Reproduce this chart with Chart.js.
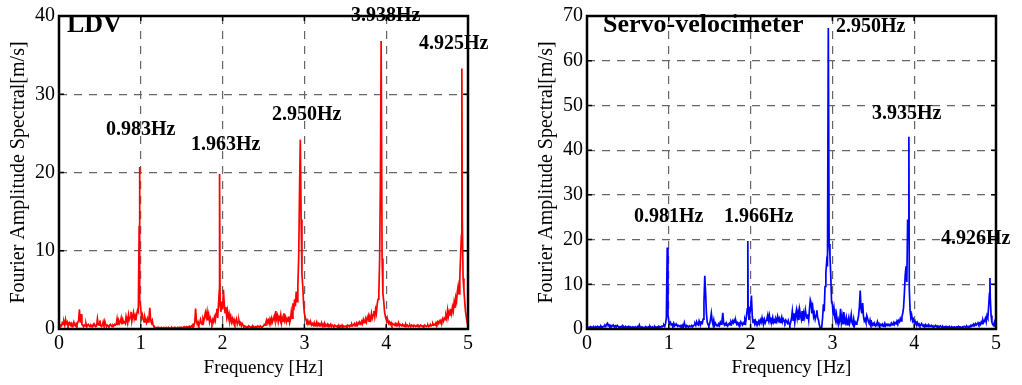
<!DOCTYPE html>
<html>
<head>
<meta charset="utf-8">
<script src="https://cdn.jsdelivr.net/npm/chart.js@4.4.0/dist/chart.umd.min.js"></script>
<style>
  html, body { margin: 0; padding: 0; background: #fff; }
  #wrap { position: relative; width: 1022px; height: 385px; }
  canvas { position: absolute; top: 0; }
  #ldv { left: 0; }
  #servo { left: 511px; }
</style>
</head>
<body>
<div id="wrap">
  <canvas id="ldv" width="511" height="385"></canvas>
  <canvas id="servo" width="511" height="385"></canvas>
</div>
<script>
// Fourier amplitude spectra, sampled every 0.01 Hz from 0 to 5 Hz (one row = 0.1 Hz)
const ldvAmp = [
  0.1,0.3,0.5,0.4,0.8,0.6,0.9,0.5,1.2,0.7,
  0.9,0.4,0.6,0.8,0.5,0.7,0.3,0.6,0.9,0.5,
  0.4,0.7,0.5,0.9,1.1,2.5,0.8,1.9,0.6,0.5,
  0.3,0.5,0.4,0.7,0.3,0.5,0.6,0.4,0.3,0.5,
  0.4,0.3,0.6,0.4,0.5,0.3,0.4,1.3,0.6,0.5,
  1.1,0.4,0.3,0.5,0.9,0.4,1.0,0.6,0.3,0.5,
  0.4,0.3,0.5,0.6,0.4,0.3,0.5,0.4,0.6,0.5,
  0.6,1.3,0.5,1.1,0.7,0.9,1.4,0.6,1.2,0.8,
  0.9,0.7,1.6,1.1,0.8,1.8,1.2,1.5,2.2,1.0,
  1.6,2.1,1.3,1.7,1.1,1.9,2.4,2.2,13.2,3.8,
  2.5,1.4,1.8,1.2,0.9,1.5,1.1,0.8,1.3,0.9,
  1.4,2.7,1.2,0.8,1.1,0.5,0.3,0.2,0.2,0.1,
  0.2,0.1,0.2,0.1,0.1,0.2,0.1,0.1,0.2,0.1,
  0.1,0.2,0.1,0.1,0.2,0.1,0.1,0.1,0.2,0.1,
  0.1,0.2,0.2,0.1,0.1,0.2,0.1,0.2,0.1,0.2,
  0.2,0.1,0.2,0.3,0.2,0.2,0.3,0.2,0.3,0.2,
  0.3,0.2,0.4,0.3,0.6,0.5,0.8,2.6,1.1,0.6,
  0.9,0.5,0.7,1.2,0.8,0.6,1.3,1.0,1.6,2.1,
  1.5,2.2,1.1,1.8,0.9,1.4,1.0,0.7,1.2,0.9,
  1.5,1.1,2.0,2.6,1.4,3.2,5.0,3.0,2.2,3.5,
  2.5,5.0,3.2,2.1,2.8,1.6,2.3,1.4,1.9,1.1,
  1.6,0.9,1.3,0.8,1.2,0.7,1.0,1.3,0.6,0.9,
  1.1,0.6,0.8,0.4,0.7,0.5,0.3,0.4,0.3,0.2,
  0.3,0.2,0.4,0.3,0.2,0.3,0.2,0.4,0.3,0.2,
  0.3,0.2,0.3,0.4,0.3,0.2,0.4,0.3,0.2,0.3,
  0.4,0.6,0.5,0.9,1.2,0.8,1.1,0.7,1.3,1.0,
  1.4,0.9,1.2,1.6,1.1,2.3,1.3,1.7,0.9,1.5,
  1.2,1.8,0.8,1.4,1.0,2.0,1.1,1.5,0.9,1.3,
  1.0,1.6,0.8,1.2,2.2,1.4,3.3,2.4,3.8,2.9,
  4.8,3.5,5.5,9.0,17.0,24.2,14.0,7.0,5.5,3.2,
  2.0,1.5,1.2,0.9,1.1,0.7,0.9,0.6,0.8,0.5,
  0.7,0.5,0.8,0.4,0.6,0.9,0.5,0.7,0.4,0.6,
  0.5,0.8,0.4,0.6,0.3,0.7,0.5,0.4,0.6,0.3,
  0.5,0.4,0.6,0.3,0.5,0.4,0.3,0.5,0.4,0.3,
  0.4,0.3,0.5,0.2,0.4,0.3,0.5,0.3,0.4,0.3,
  0.3,0.4,0.3,0.5,0.4,0.3,0.5,0.4,0.6,0.4,
  0.5,0.7,0.4,0.6,0.8,0.5,0.7,0.9,0.6,0.8,
  1.0,0.7,1.2,0.8,1.1,1.4,0.9,1.3,1.7,1.0,
  1.5,1.2,2.0,1.4,1.8,2.3,1.6,2.5,2.0,3.2,
  3.8,4.5,9.0,20.0,15.0,9.0,4.5,3.5,2.2,1.6,
  1.2,0.9,1.1,0.7,0.9,0.6,0.8,0.5,0.7,0.6,
  0.5,0.7,0.4,0.6,0.5,0.8,0.4,0.6,0.5,0.4,
  0.6,0.4,0.5,0.3,0.6,0.4,0.5,0.3,0.4,0.5,
  0.3,0.5,0.4,0.3,0.5,0.4,0.3,0.4,0.5,0.3,
  0.4,0.3,0.5,0.4,0.3,0.4,0.3,0.5,0.4,0.3,
  0.4,0.5,0.3,0.4,0.6,0.4,0.5,0.7,0.5,0.6,
  0.5,0.8,0.6,0.9,0.7,1.0,0.8,1.1,0.9,1.3,
  1.0,1.4,1.2,1.7,1.3,2.4,1.6,2.2,1.8,2.6,
  2.0,2.8,2.3,3.4,2.7,4.0,3.5,4.8,5.5,4.5,
  6.5,9.5,12.0,14.2,6.5,5.0,3.5,2.2,1.5,0.8,
  0.4
];

const servoAmp = [
  0.3,0.2,0.4,0.3,0.5,0.2,0.4,0.3,0.6,0.4,
  0.3,0.5,0.4,0.6,0.3,0.5,0.4,0.7,0.5,0.4,
  0.6,0.5,0.8,0.6,1.1,1.3,0.7,0.9,0.6,0.8,
  0.5,0.7,0.9,0.6,0.4,0.7,0.5,0.8,0.6,0.4,
  0.5,0.3,0.6,0.4,0.7,0.5,0.3,0.6,0.4,0.5,
  0.4,0.6,0.3,0.5,0.4,0.3,0.5,0.4,0.3,0.5,
  0.3,0.4,0.6,0.3,0.9,0.4,0.3,0.5,0.4,0.3,
  0.4,0.3,0.5,0.4,0.3,0.5,0.4,0.6,0.3,0.4,
  0.5,0.3,0.4,0.6,0.4,0.3,0.5,0.4,0.6,0.5,
  0.4,0.6,0.5,0.7,0.9,0.6,1.2,2.5,9.0,3.0,
  1.8,1.2,1.5,0.9,1.1,0.8,1.3,0.7,1.0,0.8,
  0.9,0.6,0.8,0.7,0.5,0.8,0.6,0.9,0.5,1.4,
  0.7,0.5,0.8,0.6,0.4,0.7,0.5,0.6,0.8,0.5,
  0.7,0.9,1.2,0.8,1.6,1.1,0.9,1.8,1.2,1.0,
  1.5,1.3,2.2,6.0,11.9,8.0,3.5,1.5,1.0,0.7,
  1.2,2.2,3.5,1.8,1.0,2.0,0.8,1.3,0.9,0.7,
  0.9,1.2,0.8,1.5,1.1,1.8,3.6,1.4,0.9,1.2,
  0.8,1.1,0.7,1.0,1.3,0.9,1.6,1.2,1.8,1.4,
  2.0,1.5,1.8,1.1,1.4,0.9,1.3,1.0,1.6,1.2,
  0.9,1.4,1.1,2.1,1.5,3.0,4.5,5.0,2.0,3.5,
  4.5,7.5,3.0,1.5,2.2,1.2,1.8,1.0,1.5,1.3,
  1.8,1.2,2.0,1.5,2.5,1.6,1.2,2.1,1.4,1.9,
  2.4,3.2,2.0,3.0,1.6,2.2,1.8,2.6,1.5,2.0,
  1.4,2.2,1.7,2.8,1.9,2.4,1.5,2.1,2.7,1.6,
  2.2,1.8,1.4,2.0,1.6,1.3,1.9,1.2,0.8,1.5,
  2.4,4.0,2.0,3.5,1.5,3.0,4.2,2.5,3.8,2.0,
  4.3,3.0,2.2,4.0,1.8,3.5,2.6,4.2,3.0,2.4,
  3.3,2.0,4.5,6.5,5.8,3.5,4.8,2.8,3.5,2.2,
  3.0,4.2,2.5,2.0,1.0,0.3,0.2,0.4,2.5,5.5,
  4.0,9.5,12.5,15.0,14.0,67.3,19.0,16.5,12.0,6.0,
  5.5,3.0,4.5,2.5,1.8,3.2,1.5,2.2,1.2,1.8,
  4.5,1.5,2.8,1.2,3.8,2.0,1.4,2.5,1.0,1.8,
  2.6,1.2,1.9,3.2,1.4,1.0,2.2,0.8,1.5,1.1,
  1.4,2.0,3.0,5.0,8.6,4.5,3.5,5.8,2.8,1.8,
  2.2,1.5,3.0,2.4,1.6,1.2,2.0,1.1,1.5,0.9,
  1.2,0.8,1.1,0.7,1.0,1.6,0.8,1.2,0.7,1.0,
  0.8,1.1,0.6,0.9,1.3,0.7,1.0,0.8,1.1,0.9,
  1.0,0.8,1.3,0.9,1.2,1.5,1.0,1.4,1.2,1.8,
  1.4,1.9,1.6,2.3,1.8,2.7,3.5,4.8,8.0,12.0,
  14.0,10.5,24.5,20.0,9.0,4.0,2.5,3.0,1.8,2.2,
  1.5,1.8,1.2,1.0,1.4,0.8,1.1,0.7,0.9,1.2,
  0.8,0.6,0.9,0.7,1.0,0.6,0.8,0.5,0.9,0.7,
  0.6,0.8,0.5,0.7,0.4,0.6,0.8,0.5,0.7,0.4,
  0.6,0.4,0.7,0.5,0.3,0.6,0.4,0.5,0.3,0.6,
  0.4,0.5,0.3,0.6,0.4,0.3,0.5,0.4,0.3,0.5,
  0.4,0.3,0.5,0.4,0.6,0.3,0.5,0.4,0.3,0.5,
  0.4,0.6,0.5,0.3,0.7,0.5,0.4,0.6,0.5,0.8,
  0.6,0.9,0.7,1.0,0.8,1.2,0.9,1.1,1.4,1.0,
  1.3,1.0,1.6,1.2,2.0,1.5,1.8,2.4,1.6,3.0,
  2.5,5.0,8.0,7.0,3.0,1.5,1.0,0.8,1.5,0.6,
  0.4
];

// dominant peaks (frequency, amplitude)
const ldvPeakHz = [0.983, 1.963, 2.950, 3.938, 4.925];
const ldvPeakAmp = [20.7, 19.8, 24.2, 36.8, 33.3];
const servoPeakHz = [0.981, 1.966, 2.950, 3.935, 4.926];
const servoPeakAmp = [18.2, 19.7, 67.3, 43.0, 11.4];

const freqTicks = [0, 1, 2, 3, 4, 5];

function spectrum(amp, peakHz, peakAmp) {
  const pts = amp.map((v, i) => ({x: i / 100, y: v}))
    .filter(p => !peakHz.some(f => Math.abs(f - p.x) < 0.002));
  peakHz.forEach((f, i) => pts.push({x: f, y: peakAmp[i]}));
  return pts.sort((a, b) => a.x - b.x);
}

const serif = '"Liberation Serif", "Times New Roman", serif';

// black box with inward tick marks, plus the bold annotations
const framePlugin = {
  id: 'frame',
  afterDatasetsDraw(chart, args, opts) {
    const {ctx, chartArea: a, scales} = chart;
    ctx.save();
    ctx.strokeStyle = '#000';
    ctx.lineWidth = 1.5;
    ctx.beginPath();
    scales.y.ticks.forEach(t => {
      const y = scales.y.getPixelForValue(t.value);
      ctx.moveTo(a.left, y); ctx.lineTo(a.left + 5, y);
      ctx.moveTo(a.right, y); ctx.lineTo(a.right - 5, y);
    });
    scales.x.ticks.forEach(t => {
      const x = scales.x.getPixelForValue(t.value);
      ctx.moveTo(x, a.bottom); ctx.lineTo(x, a.bottom - 5);
      ctx.moveTo(x, a.top); ctx.lineTo(x, a.top + 5);
    });
    ctx.stroke();
    ctx.lineWidth = 2.5;
    ctx.strokeRect(a.left, a.top, a.right - a.left, a.bottom - a.top);
    ctx.fillStyle = '#000';
    ctx.textAlign = 'left';
    ctx.textBaseline = 'alphabetic';
    ctx.font = 'bold 26px ' + serif;
    ctx.fillText(opts.title, opts.titleAt[0], opts.titleAt[1]);
    ctx.font = 'bold 20px ' + serif;
    opts.peakHz.forEach((f, i) => {
      ctx.fillText(f.toFixed(3) + 'Hz', opts.labelAt[i][0], opts.labelAt[i][1]);
    });
    ctx.restore();
  }
};

function makeChart(id, points, color, yMax, padRight, yWidth, yTitlePad, frame) {
  return new Chart(document.getElementById(id), {
    type: 'line',
    data: {
      datasets: [{
        data: points,
        borderColor: color,
        borderWidth: 1.7,
        pointRadius: 0,
        tension: 0,
        fill: false
      }]
    },
    options: {
      responsive: false,
      animation: false,
      devicePixelRatio: 1,
      layout: { padding: { left: 0, top: 12, right: padRight, bottom: 0 } },
      plugins: { legend: { display: false }, tooltip: { enabled: false }, frame: frame },
      scales: {
        x: {
          type: 'linear',
          min: 0, max: 5,
          afterBuildTicks: s => { s.ticks = freqTicks.map(v => ({value: v})); },
          afterFit: s => { s.height = 56; },
          grid: { color: '#666', lineWidth: 1.2, drawTicks: false },
          border: { display: false, dash: [8, 7] },
          ticks: { color: '#000', font: { family: serif, size: 20 }, padding: 3, maxRotation: 0 },
          title: { display: true, text: 'Frequency [Hz]', color: '#000', font: { family: serif, size: 19 }, padding: { top: 0, bottom: 6 } }
        },
        y: {
          min: 0, max: yMax,
          afterFit: s => { s.width = yWidth; },
          grid: { color: '#666', lineWidth: 1.2, drawTicks: false },
          border: { display: false, dash: [8, 7] },
          ticks: { stepSize: 10, color: '#000', font: { family: serif, size: 20 }, padding: 4 },
          title: { display: true, text: 'Fourier Amplitude Spectral[m/s]', color: '#000', font: { family: serif, size: 20 }, padding: { top: yTitlePad, bottom: 0 } }
        }
      }
    },
    plugins: [framePlugin]
  });
}

makeChart('ldv', spectrum(ldvAmp, ldvPeakHz, ldvPeakAmp), '#ff0000', 40, 43, 59, 7, {
  title: 'LDV',
  titleAt: [67, 32],
  peakHz: ldvPeakHz,
  labelAt: [[106, 135], [191, 150], [272, 120], [351, 21], [419, 49]]
});

makeChart('servo', spectrum(servoAmp, servoPeakHz, servoPeakAmp), '#0000ff', 70, 26, 76, 24, {
  title: 'Servo-velocimeter',
  titleAt: [92, 32],
  peakHz: servoPeakHz,
  labelAt: [[123, 222], [213, 222], [325, 32], [361, 119], [430, 244]]
});
</script>
</body>
</html>
